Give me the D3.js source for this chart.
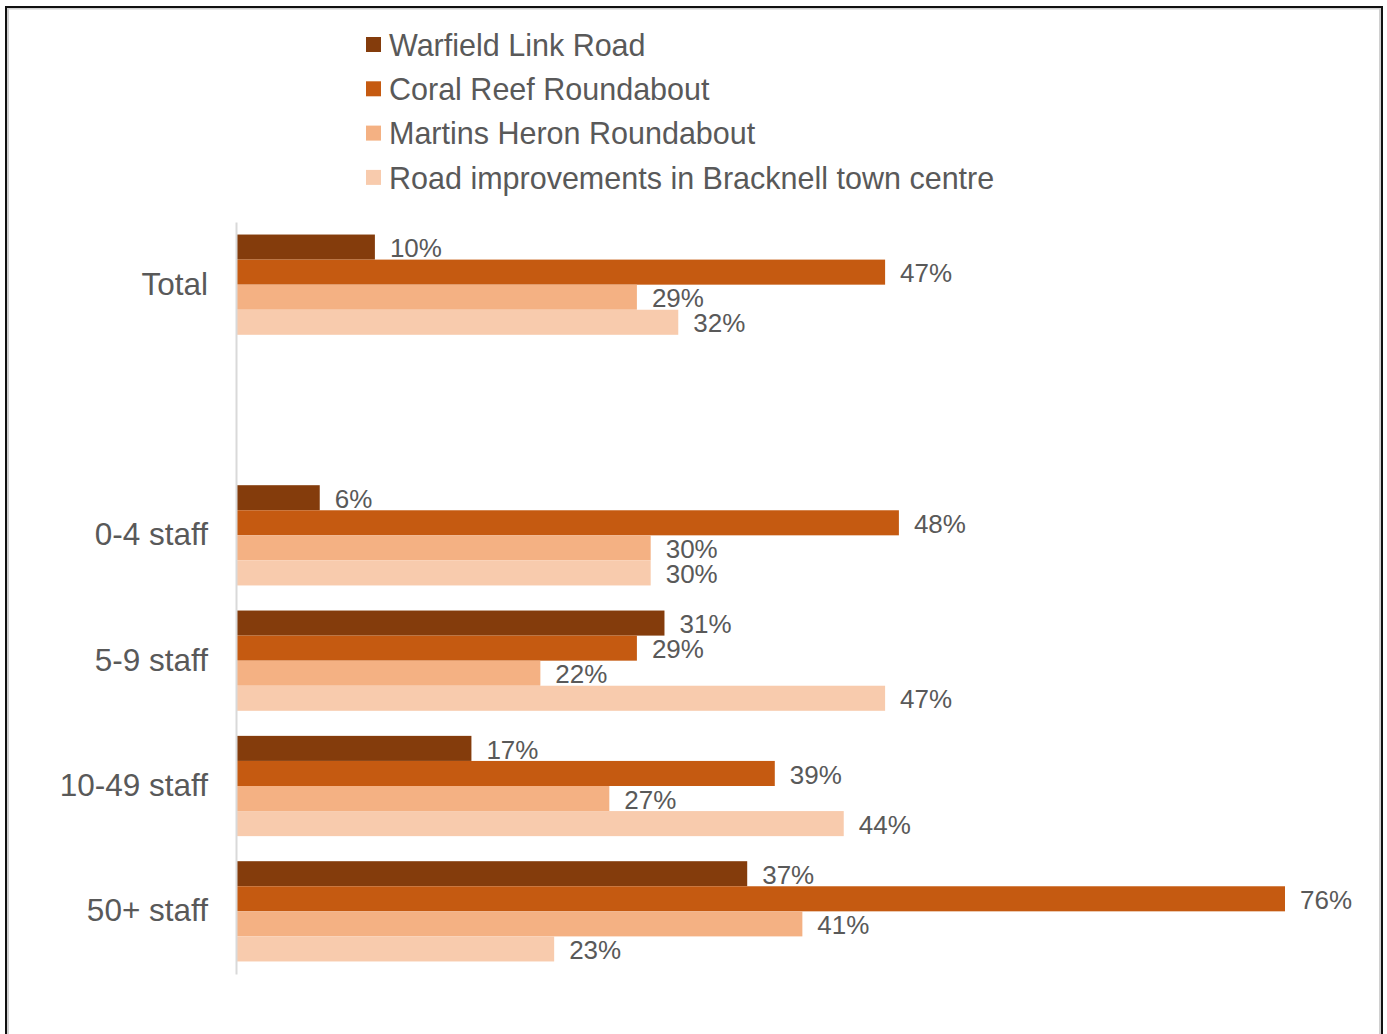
<!DOCTYPE html>
<html>
<head>
<meta charset="utf-8">
<script src="https://cdn.jsdelivr.net/npm/d3@7"></script>
<style>
  html, body { margin: 0; padding: 0; background: #fff; }
  svg { display: block; font-family: "Liberation Sans", Arial, sans-serif; }
</style>
</head>
<body>
<svg id="chart" width="1387" height="1034"></svg>
<script>
// Groups shown down the chart; the empty entry leaves a gap after "Total"
const categories = ["Total", "", "0-4 staff", "5-9 staff", "10-49 staff", "50+ staff"];

const seriesNames = [
  "Warfield Link Road",
  "Coral Reef Roundabout",
  "Martins Heron Roundabout",
  "Road improvements in Bracknell town centre"
];

// Percentages per group (null = no bar)
const warfield = [10, null, 6, 31, 17, 37];
const coralReef = [47, null, 48, 29, 39, 76];
const martinsHeron = [29, null, 30, 22, 27, 41];
const townCentre = [32, null, 30, 47, 44, 23];

const seriesValues = [warfield, coralReef, martinsHeron, townCentre];
const seriesColors = ["#843C0C", "#C55A11", "#F4B183", "#F8CBAD"];

const svg = d3.select("#chart");
const textColor = "#595959";

// Frame
svg.append("rect")
  .attr("x", 8).attr("y", 8.5).attr("width", 1372).attr("height", 1040)
  .attr("fill", "none").attr("stroke", "#d0d0d0").attr("stroke-width", 2);
svg.append("rect")
  .attr("x", 6).attr("y", 7).attr("width", 1376).attr("height", 1040)
  .attr("fill", "none").attr("stroke", "#111").attr("stroke-width", 2);

// Scales
const x0 = 237;
const x = d3.scaleLinear().domain([0, 76]).range([x0, 1285]);
const y = d3.scaleBand().domain(categories).range([222, 974]).paddingInner(0.2).paddingOuter(0.1);
const ySeries = d3.scaleBand().domain(d3.range(seriesNames.length)).range([0, y.bandwidth()]);

// Bars and value labels
seriesValues.forEach((vals, si) => {
  const rows = categories.map((c, i) => ({ cat: c, v: vals[i] })).filter(d => d.v != null);
  const g = svg.append("g");
  g.selectAll("rect").data(rows).join("rect")
    .attr("x", x(0))
    .attr("y", d => y(d.cat) + ySeries(si))
    .attr("width", d => x(d.v) - x(0))
    .attr("height", ySeries.bandwidth())
    .attr("fill", seriesColors[si]);
  g.selectAll("text").data(rows).join("text")
    .attr("x", d => x(d.v) + 15)
    .attr("y", d => y(d.cat) + ySeries(si) + ySeries.bandwidth() / 2 + 1)
    .attr("dy", "0.35em")
    .attr("fill", textColor)
    .attr("font-size", 26)
    .text(d => d.v + "%");
});

// Category axis
const axis = d3.axisLeft(y).tickSize(0).tickPadding(28);
const ag = svg.append("g").attr("transform", `translate(236,0)`).call(axis);
ag.select(".domain").attr("stroke", "#d9d9d9").attr("stroke-width", 2);
ag.selectAll(".tick text")
  .attr("fill", textColor)
  .attr("font-size", 31.5)
  .attr("font-family", "Liberation Sans, Arial, sans-serif");

// Legend
const legend = svg.append("g");
seriesNames.forEach((name, i) => {
  const cy = 45 + i * 44.3;
  legend.append("rect")
    .attr("x", 366).attr("y", cy - 8).attr("width", 15).attr("height", 15)
    .attr("fill", seriesColors[i]);
  legend.append("text")
    .attr("x", 389).attr("y", cy).attr("dy", "0.35em")
    .attr("fill", textColor).attr("font-size", 30.5)
    .text(name);
});
</script>
</body>
</html>
